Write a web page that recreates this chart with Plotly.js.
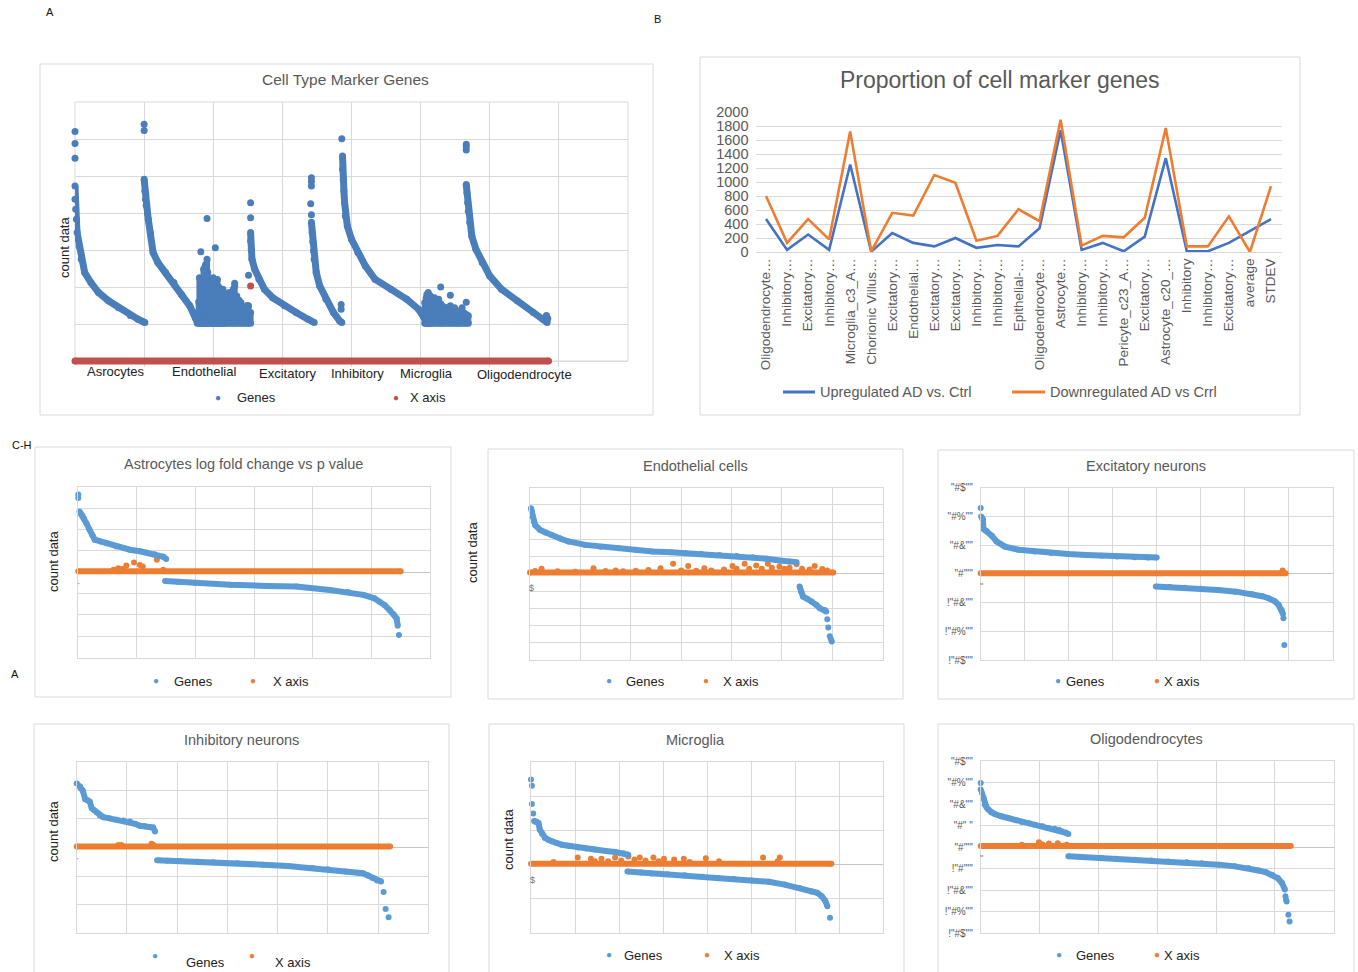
<!DOCTYPE html>
<html><head><meta charset="utf-8">
<script src="https://cdn.plot.ly/plotly-3.0.1.min.js"></script>
<style>html,body{margin:0;padding:0;background:#fff}#chart{width:1358px;height:972px}</style>
</head><body><div id="chart"></div>
<script>
// ---------------- DATA ----------------
// Panel A : Cell Type Marker Genes (grid units, no tick labels in original)
const A_categories = ['Asrocytes','Endothelial','Excitatory','Inhibitory','Microglia','Oligodendrocyte'];
const A_c1X = [0, 0, 0.01, 0.02, 0.03, 0.06, 0.09, 0.14, 0.23, 0.34, 0.49, 0.63, 0.8, 0.91, 1.01];
const A_c1Y = [4.73, 4.37, 4.1, 3.83, 3.47, 3.1, 2.75, 2.39, 2.12, 1.85, 1.62, 1.44, 1.23, 1.13, 1.04];
const A_c2X = [1.0, 1.01, 1.02, 1.03, 1.05, 1.06, 1.09, 1.13, 1.2, 1.31, 1.43, 1.54, 1.66, 1.74, 1.77];
const A_c2Y = [4.91, 4.59, 4.37, 4.2, 4.0, 3.83, 3.47, 2.93, 2.66, 2.39, 2.12, 1.8, 1.49, 1.17, 1.04];
const A_c4X = [2.54, 2.54, 2.55, 2.56, 2.6, 2.66, 2.74, 2.86, 3.03, 3.2, 3.37, 3.46];
const A_c4Y = [3.47, 3.24, 3.02, 2.75, 2.48, 2.21, 1.94, 1.71, 1.49, 1.31, 1.13, 1.04];
const A_c5X = [3.42, 3.43, 3.44, 3.45, 3.46, 3.49, 3.54, 3.63, 3.74, 3.83, 3.86];
const A_c5Y = [3.75, 3.47, 3.22, 2.97, 2.75, 2.39, 2.03, 1.67, 1.31, 1.08, 1.04];
const A_c6X = [3.87, 3.87, 3.88, 3.89, 3.9, 3.91, 3.94, 4.0, 4.09, 4.2, 4.34, 4.57, 4.8, 4.97, 5.06, 5.09];
const A_c6Y = [5.54, 5.18, 4.9, 4.6, 4.28, 3.92, 3.65, 3.29, 2.93, 2.57, 2.21, 1.94, 1.67, 1.4, 1.17, 1.04];
const A_c8X = [5.66, 5.67, 5.68, 5.69, 5.71, 5.74, 5.8, 5.89, 6.0, 6.17, 6.4, 6.63, 6.77, 6.83];
const A_c8Y = [4.77, 4.55, 4.28, 4.05, 3.74, 3.38, 3.02, 2.66, 2.3, 1.94, 1.62, 1.31, 1.13, 1.04];
const A_endoColX   = [1.77, 1.79, 1.8, 1.82, 1.83, 1.85, 1.86, 1.88, 1.89, 1.91, 1.92, 1.94, 1.96, 1.97, 1.99, 2.0, 2.02, 2.03, 2.05, 2.06, 2.08, 2.09, 2.11, 2.13, 2.14, 2.16, 2.17, 2.2, 2.23, 2.26, 2.29, 2.31, 2.34, 2.37, 2.4, 2.43, 2.46, 2.49, 2.51, 2.54];
const A_endoColTop = [1.31, 1.6, 2.25, 1.9, 1.85, 2.1, 2.48, 2.55, 2.61, 2.75, 2.4, 2.2, 2.0, 1.94, 2.1, 2.25, 2.0, 2.03, 2.1, 2.2, 2.0, 1.94, 1.85, 1.9, 1.94, 1.8, 1.76, 1.7, 1.85, 1.75, 1.94, 2.03, 1.76, 1.65, 1.58, 1.45, 1.4, 1.5, 1.49, 1.31];
const A_microColX   = [5.06, 5.08, 5.09, 5.11, 5.12, 5.14, 5.15, 5.17, 5.2, 5.23, 5.26, 5.29, 5.31, 5.34, 5.37, 5.4, 5.43, 5.46, 5.49, 5.52, 5.54, 5.57, 5.6, 5.63, 5.66, 5.69];
const A_microColTop = [1.58, 1.7, 1.8, 1.85, 1.8, 1.76, 1.72, 1.67, 1.71, 1.58, 1.67, 1.55, 1.49, 1.45, 1.44, 1.38, 1.49, 1.4, 1.44, 1.35, 1.31, 1.36, 1.44, 1.3, 1.26, 1.22];
const A_colFloor = 1.02;
const A_dotX = [0, 0, 0, 1.0, 1.0, 1.91, 2.03, 1.82, 2.31, 2.51, 2.54, 2.54, 3.42, 3.42, 3.42, 3.41, 3.42, 3.85, 3.85, 3.86, 5.29, 5.43, 5.66, 5.66, 5.66, 5.66, 6.82, 6.84];
const A_dotY = [6.2, 5.88, 5.48, 6.4, 6.23, 3.85, 3.06, 2.95, 2.1, 2.32, 4.28, 3.87, 4.95, 4.85, 4.73, 4.25, 3.95, 1.53, 1.4, 6.01, 2.0, 1.78, 1.59, 5.86, 5.79, 5.7, 1.23, 1.15];
const A_axisX = [0, 6.85];
const A_axisY = [0, 0];
const A_redDotX = [2.54];
const A_redDotY = [2.03];

// Panel B : Proportion of cell marker genes
const B_labels = ['Oligodendrocyte…','Inhibitory…','Excitatory…','Inhibitory…','Microglia_c3_A…','Chorionic Villus…','Excitatory…','Endothelial…','Excitatory…','Excitatory…','Inhibitory…','Inhibitory…','Epithelial-…','Oligodendrocyte…','Astrocyte…','Inhibitory…','Inhibitory…','Pericyte_c23_A…','Excitatory…','Astrocyte_c20_…','Inhibitory','Inhibitory…','Excitatory…','average','STDEV'];
const B_up   = [470, 30, 250, 30, 1250, 5, 270, 130, 80, 200, 60, 100, 80, 340, 1740, 30, 130, 10, 220, 1340, 10, 10, 130, 300, 470];
const B_down = [800, 130, 470, 180, 1720, 10, 560, 520, 1100, 990, 160, 230, 610, 440, 1890, 90, 230, 210, 490, 1770, 80, 80, 510, 0, 940];
const B_yTicks = [0, 200, 400, 600, 800, 1000, 1200, 1400, 1600, 1800, 2000];

// Panel C : Astrocytes
const C_upX = [0.02, 0.04, 0.07, 0.1, 0.14, 0.19, 0.24, 0.28, 0.38, 0.48, 0.65, 0.88, 1.05, 1.16, 1.3, 1.45, 1.5];
const C_upY = [2.84, 2.76, 2.65, 2.5, 2.28, 2.0, 1.72, 1.52, 1.44, 1.36, 1.2, 1.05, 0.98, 0.92, 0.84, 0.72, 0.62];
const C_loX = [1.48, 1.7, 2.0, 2.59, 3.2, 3.72, 4.29, 4.6, 4.86, 5.05, 5.14, 5.23, 5.31, 5.38, 5.43, 5.45];
const C_loY = [-0.41, -0.45, -0.5, -0.59, -0.64, -0.67, -0.83, -0.93, -1.06, -1.22, -1.38, -1.55, -1.77, -1.97, -2.16, -2.5];
const C_dotX = [0, 0, 5.47];
const C_dotY = [3.63, 3.47, -2.94];
const C_axisX = [0, 5.5];
const C_axisY = [0.05, 0.05];
const C_bumpX = [0.6, 0.68, 0.75, 0.82, 0.95, 1.05, 1.1, 1.34, 1.45];
const C_bumpY = [0.12, 0.19, 0.15, 0.31, 0.45, 0.34, 0.27, 0.58, 0.12];

// Panel D : Endothelial cells
const D_upX = [0.02, 0.03, 0.05, 0.08, 0.1, 0.2, 0.3, 0.43, 0.6, 0.76, 1.1, 1.4, 1.76, 2.1, 2.43, 2.8, 3.09, 3.4, 3.76, 4.1, 4.42, 4.7, 4.95, 5.15, 5.29];
const D_upY = [3.81, 3.67, 3.33, 3.04, 2.84, 2.55, 2.4, 2.26, 2.05, 1.88, 1.68, 1.58, 1.49, 1.4, 1.3, 1.25, 1.2, 1.15, 1.1, 1.04, 0.97, 0.88, 0.77, 0.72, 0.68];
const D_loX = [5.35, 5.38, 5.42, 5.5, 5.59, 5.68, 5.75, 5.85, 5.88];
const D_loY = [-0.73, -1.03, -1.32, -1.45, -1.6, -1.8, -1.99, -2.1, -2.19];
const D_dotX = [5.9, 5.92, 5.95, 5.97, 5.99];
const D_dotY = [-2.64, -3.11, -3.62, -3.78, -3.93];
const D_axisX = [0, 6.02];
const D_axisY = [0.08, 0.08];
const D_bumpX = [0.1, 0.23, 0.55, 0.9, 1.26, 1.5, 1.7, 1.85, 2.1, 2.35, 2.59, 2.84, 3.0, 3.14, 3.3, 3.46, 3.6, 3.85, 4.02, 4.1, 4.26, 4.35, 4.49, 4.6, 4.72, 4.8, 4.95, 5.05, 5.15, 5.29, 5.4, 5.55, 5.65, 5.8, 5.9];
const D_bumpY = [0.17, 0.29, 0.15, 0.12, 0.33, 0.17, 0.2, 0.15, 0.18, 0.22, 0.33, 0.58, 0.2, 0.46, 0.18, 0.33, 0.2, 0.25, 0.46, 0.3, 0.58, 0.3, 0.48, 0.3, 0.58, 0.35, 0.43, 0.3, 0.35, 0.56, 0.3, 0.25, 0.46, 0.28, 0.2];

// Panel E : Excitatory neurons
const E_upX = [0.01, 0.03, 0.05, 0.06, 0.1, 0.14, 0.25, 0.36, 0.55, 0.86, 1.23, 1.6, 1.99, 2.4, 2.75, 3.1, 3.5, 3.8, 4.0];
const E_upY = [2.0, 1.93, 1.9, 1.57, 1.52, 1.48, 1.33, 1.13, 0.95, 0.84, 0.78, 0.73, 0.69, 0.66, 0.63, 0.6, 0.58, 0.57, 0.57];
const E_loX = [3.98, 4.3, 4.64, 5.0, 5.4, 5.8, 6.16, 6.4, 6.54, 6.68, 6.77, 6.84, 6.87];
const E_loY = [-0.44, -0.46, -0.48, -0.52, -0.56, -0.62, -0.7, -0.78, -0.85, -0.95, -1.08, -1.26, -1.4];
const E_dotX = [0, 6.88, 6.9];
const E_dotY = [2.29, -1.55, -2.48];
const E_axisX = [0, 6.93];
const E_axisY = [0.02, 0.02];
const E_bumpX = [6.86];
const E_bumpY = [0.12];
const E_tickVals = [-3, -2, -1, 0, 1, 2, 3];
const E_tickText = ['!"#$""', '!"#%""', '!"#&""', '"#\'""', '"#&""', '"#%""', '"#$""'];

// Panel F : Inhibitory neurons
const F_upX = [0, 0.07, 0.12, 0.17, 0.22, 0.26, 0.3, 0.35, 0.4, 0.46, 0.53, 0.65, 0.79, 0.93, 1.06, 1.16, 1.26, 1.36, 1.46, 1.52, 1.56];
const F_upY = [2.24, 2.13, 1.99, 1.69, 1.65, 1.6, 1.37, 1.3, 1.22, 1.12, 1.06, 1.02, 0.97, 0.94, 0.91, 0.83, 0.76, 0.74, 0.71, 0.7, 0.56];
const F_loX = [1.6, 1.8, 2.05, 2.4, 2.72, 3.2, 3.71, 4.2, 4.7, 5.0, 5.36, 5.6, 5.7, 5.8, 5.89, 5.98, 6.06];
const F_loY = [-0.45, -0.46, -0.47, -0.5, -0.52, -0.55, -0.6, -0.65, -0.72, -0.76, -0.84, -0.88, -0.9, -0.98, -1.07, -1.15, -1.19];
const F_dotX = [6.11, 6.15, 6.21];
const F_dotY = [-1.56, -2.15, -2.44];
const F_axisX = [0, 6.24];
const F_axisY = [0.035, 0.035];
const F_bumpX = [0.83, 0.89, 1.49, 1.52];
const F_bumpY = [0.09, 0.09, 0.13, 0.1];

// Panel G : Microglia
const G_upX = [0.07, 0.09, 0.13, 0.17, 0.2, 0.25, 0.32, 0.4, 0.47, 0.58, 0.7, 0.85, 1.07, 1.25, 1.45, 1.7, 1.91, 2.1, 2.21];
const G_upY = [1.27, 1.26, 1.25, 1.21, 1.02, 0.9, 0.78, 0.72, 0.68, 0.63, 0.58, 0.55, 0.5, 0.47, 0.44, 0.4, 0.37, 0.33, 0.29];
const G_loX = [2.19, 2.5, 2.74, 3.1, 3.49, 3.9, 4.25, 4.6, 5.01, 5.4, 5.76, 6.1, 6.37, 6.5, 6.6, 6.68, 6.73];
const G_loY = [-0.2, -0.23, -0.26, -0.28, -0.31, -0.35, -0.39, -0.42, -0.46, -0.5, -0.58, -0.68, -0.78, -0.82, -0.92, -1.05, -1.21];
const G_dotX = [0, 0.02, 0.02, 0.05, 6.79];
const G_dotY = [2.48, 2.3, 1.77, 1.49, -1.55];
const G_axisX = [0, 6.82];
const G_axisY = [0.03, 0.03];
const G_bumpX = [0.51, 1.06, 1.36, 1.45, 1.6, 1.75, 1.91, 2.05, 2.21, 2.35, 2.47, 2.6, 2.78, 2.9, 3.02, 3.25, 3.47, 3.6, 3.97, 4.27, 5.27, 5.6, 5.65];
const G_bumpY = [0.08, 0.21, 0.17, 0.1, 0.17, 0.1, 0.21, 0.12, 0.24, 0.15, 0.21, 0.12, 0.21, 0.1, 0.17, 0.15, 0.17, 0.08, 0.19, 0.1, 0.21, 0.1, 0.21];

// Panel H : Oligodendrocytes
const H_upX = [0, 0.02, 0.05, 0.07, 0.1, 0.13, 0.18, 0.24, 0.35, 0.47, 0.6, 0.7, 0.82, 0.92, 1.05, 1.15, 1.26, 1.33, 1.38, 1.45, 1.49];
const H_upY = [2.67, 2.51, 2.28, 1.97, 1.85, 1.74, 1.6, 1.53, 1.43, 1.35, 1.24, 1.16, 1.1, 1.04, 0.96, 0.88, 0.85, 0.8, 0.73, 0.66, 0.6];
const H_loX = [1.49, 1.7, 2.06, 2.3, 2.62, 2.9, 3.19, 3.5, 3.76, 4.05, 4.32, 4.55, 4.72, 4.85, 4.95, 5.05, 5.12, 5.17];
const H_loY = [-0.43, -0.46, -0.51, -0.55, -0.59, -0.63, -0.67, -0.71, -0.76, -0.82, -0.9, -0.98, -1.09, -1.18, -1.29, -1.45, -1.67, -1.98];
const H_dotX = [0, 5.18, 5.19, 5.2, 5.23, 5.25];
const H_dotY = [2.98, -2.29, -2.45, -2.53, -3.15, -3.46];
const H_axisX = [0, 5.27];
const H_axisY = [0.05, 0.05];
const H_bumpX = [0.7, 0.99, 1.05, 1.16, 1.31, 1.46];
const H_bumpY = [0.11, 0.22, 0.12, 0.16, 0.17, 0.11];
const H_tickVals = [-4, -3, -2, -1, 0, 1, 2, 3, 4];
const H_tickText = ['!"#$""', '!"#%""', '!"#&""', '!"#\'""', '"#\'""', '"#" "', '"#&""', '"#%""', '"#$""'];

// ---------------- LAYOUT HELPERS ----------------
const W = 1358, H = 972;
const PX = x => x / W, PY = y => 1 - y / H;
const GRID = '#d9d9d9';
const BLUE_A = '#4a7ebb', RED_A = '#c0504d';
const BLUE = '#5b9bd5', ORANGE = '#ed7d31';
const FONT = 'Liberation Sans, Arial, sans-serif';

const traces = [];
function band(xa, ya, X, Y, color, size) {
  traces.push({type:'scatter', mode:'lines+markers', x:X, y:Y, xaxis:xa, yaxis:ya,
    line:{color:color, width:size}, marker:{color:color, size:size}, cliponaxis:false, hoverinfo:'skip'});
}
function dots(xa, ya, X, Y, color, size) {
  traces.push({type:'scatter', mode:'markers', x:X, y:Y, xaxis:xa, yaxis:ya,
    marker:{color:color, size:size}, cliponaxis:false, hoverinfo:'skip'});
}
function columns(xa, ya, X, T, floor, color, size) {
  const cx = [], cy = [];
  X.forEach((v, i) => { cx.push(v, v, null); cy.push(floor, T[i], null); });
  traces.push({type:'scatter', mode:'lines', x:cx, y:cy, xaxis:xa, yaxis:ya,
    line:{color:color, width:size-1}, cliponaxis:false, hoverinfo:'skip', connectgaps:false});
  dots(xa, ya, X, T, color, size);
  dots(xa, ya, X, X.map(() => floor), color, size);
}

function gridAxis(d, range, anchor, extra) {
  return Object.assign({domain:d, range:range, dtick:1, tick0:0, anchor:anchor,
    showgrid:true, gridcolor:GRID, gridwidth:1, zeroline:false,
    showline:true, mirror:true, linecolor:GRID, linewidth:1,
    showticklabels:false, ticks:'', fixedrange:true}, extra || {});
}
const layout = {
  width:W, height:H, margin:{l:0, r:0, t:0, b:0},
  paper_bgcolor:'#fff', plot_bgcolor:'#fff', showlegend:false,
  font:{family:FONT, color:'#333'}, annotations:[], shapes:[]
};
function addPanel(n, box, xr, yr, zero, yextra, xextra) {
  const xk = n === 1 ? 'xaxis' : 'xaxis' + n, yk = n === 1 ? 'yaxis' : 'yaxis' + n;
  const xa = n === 1 ? 'x' : 'x' + n, ya = n === 1 ? 'y' : 'y' + n;
  layout[xk] = gridAxis([PX(box.l), PX(box.r)], xr, ya, xextra);
  layout[yk] = gridAxis([PY(box.b), PY(box.t)], yr, xa,
    Object.assign(zero ? {zeroline:true, zerolinecolor:'#c6c6c6', zerolinewidth:1} : {}, yextra || {}));
  return [xa, ya];
}
function txt(x, y, text, size, color, extra) {
  layout.annotations.push(Object.assign({xref:'paper', yref:'paper', x:PX(x), y:PY(y), text:text,
    showarrow:false, xanchor:'center', yanchor:'middle', font:{family:FONT, size:size, color:color}}, extra || {}));
}
function frame(l, t, r, b) {
  layout.shapes.push({type:'rect', xref:'paper', yref:'paper', x0:PX(l), x1:PX(r), y0:PY(b), y1:PY(t),
    line:{color:GRID, width:1}, fillcolor:'rgba(0,0,0,0)', layer:'below'});
}
function legend2(y, d1, t1, d2, t2, c1, c2, size) {
  txt(d1, y - 1, '●', 10, c1); txt(t1, y, 'Genes', size, '#222');
  txt(d2, y - 1, '●', 10, c2); txt(t2, y, 'X axis', size, '#222');
}

// ---------------- PANEL A ----------------
frame(40, 64, 653, 415);
frame(75, 102, 628, 361);   // plot-area frame of panel A
// y range extended a little below 0 so the thick red "X axis" line is not clipped
let [ax, ay] = addPanel(1, {l:75, r:628, t:102, b:366.55}, [0, 8], [-0.15, 7], false,
  {showline:false}, {showline:false});
[[A_c1X, A_c1Y], [A_c2X, A_c2Y], [A_c4X, A_c4Y], [A_c5X, A_c5Y], [A_c6X, A_c6Y], [A_c8X, A_c8Y]]
  .forEach(c => band(ax, ay, c[0], c[1], BLUE_A, 7));
columns(ax, ay, A_endoColX, A_endoColTop, A_colFloor, BLUE_A, 7);
columns(ax, ay, A_microColX, A_microColTop, A_colFloor, BLUE_A, 7);
dots(ax, ay, A_dotX, A_dotY, BLUE_A, 7);
band(ax, ay, A_axisX, A_axisY, RED_A, 7);
dots(ax, ay, A_redDotX, A_redDotY, RED_A, 7);
txt(345, 80, 'Cell Type Marker Genes', 15.5, '#595959');
txt(65, 248, 'count data', 13, '#222', {textangle:-90});
const A_labelPos = [[116, 372], [204, 372], [288, 373], [357, 373], [426, 373], [524, 375]];
A_categories.forEach((c, i) => txt(A_labelPos[i][0], A_labelPos[i][1], c, 13, '#222'));
legend2(398, 218, 256, 396, 428, BLUE_A, RED_A, 13);

// ---------------- PANEL B ----------------
frame(700, 57, 1300, 415);
layout.xaxis2 = {domain:[PX(755.5), PX(1281.5)], range:[-0.5, B_labels.length - 0.5], anchor:'y2',
  tickvals:B_labels.map((_, i) => i), ticktext:B_labels, tickangle:-90, ticks:'',
  tickfont:{family:FONT, size:13.5, color:'#595959'}, showgrid:false, zeroline:false,
  showline:true, linecolor:GRID, linewidth:1, fixedrange:true};
layout.yaxis2 = {domain:[PY(252), PY(112)], range:[0, 2000], anchor:'x2', tickvals:B_yTicks,
  ticks:'', ticklabelstandoff:6, tickfont:{family:FONT, size:14.5, color:'#595959'},
  showgrid:true, gridcolor:GRID, zeroline:false, showline:false, fixedrange:true};
const Bx = B_labels.map((_, i) => i);
traces.push({type:'scatter', mode:'lines', x:Bx, y:B_up, xaxis:'x2', yaxis:'y2',
  line:{color:'#4472c4', width:2.6}, cliponaxis:false, hoverinfo:'skip'});
traces.push({type:'scatter', mode:'lines', x:Bx, y:B_down, xaxis:'x2', yaxis:'y2',
  line:{color:ORANGE, width:2.6}, cliponaxis:false, hoverinfo:'skip'});
txt(1000, 80, 'Proportion of cell marker genes', 23, '#595959');
layout.shapes.push({type:'line', xref:'paper', yref:'paper', x0:PX(783), x1:PX(815), y0:PY(392), y1:PY(392), line:{color:'#4472c4', width:3}});
layout.shapes.push({type:'line', xref:'paper', yref:'paper', x0:PX(1012), x1:PX(1045), y0:PY(392), y1:PY(392), line:{color:ORANGE, width:3}});
txt(818, 392, 'Upregulated AD vs. Ctrl', 14.5, '#595959', {xanchor:'left'});
txt(1048, 392, 'Downregulated AD vs Crrl', 14.5, '#595959', {xanchor:'left'});

// ---------------- SMALL PANELS ----------------
function small(n, box, xr, yr, up, lo, dt, axis, bump, yextra) {
  const [xa, ya] = addPanel(n, box, xr, yr, true, yextra);
  band(xa, ya, axis[0], axis[1], ORANGE, 6);
  dots(xa, ya, bump[0], bump[1], ORANGE, 6);
  band(xa, ya, up[0], up[1], BLUE, 6);
  band(xa, ya, lo[0], lo[1], BLUE, 6);
  dots(xa, ya, dt[0], dt[1], BLUE, 6);
}
const tickExtra = (vals, text) => ({showticklabels:true, tickvals:vals, ticktext:text, ticklabelstandoff:5,
  tickfont:{family:FONT, size:10, color:'#595959'}});

// C
frame(35, 447, 451, 697);
small(3, {l:78.3, r:430, t:486.7, b:657.7}, [0, 6], [-4, 4], [C_upX, C_upY], [C_loX, C_loY], [C_dotX, C_dotY], [C_axisX, C_axisY], [C_bumpX, C_bumpY]);
txt(243, 464, 'Astrocytes log fold change vs p value', 14.5, '#595959');
txt(53, 562, 'count data', 13, '#222', {textangle:-90});
txt(78.5, 583, '·', 10, '#888');
legend2(681, 156, 193, 253, 291, BLUE, ORANGE, 13);

// D
frame(488, 449, 903, 699);
small(4, {l:530, r:882.7, t:487.7, b:660}, [0, 7], [-5, 5], [D_upX, D_upY], [D_loX, D_loY], [D_dotX, D_dotY], [D_axisX, D_axisY], [D_bumpX, D_bumpY]);
txt(696, 466, 'Endothelial cells', 14.5, '#595959');
txt(472, 553, 'count data', 13, '#222', {textangle:-90});
txt(531, 588, '$', 9, '#777');
legend2(681, 609, 645, 706, 741, BLUE, ORANGE, 13);

// E
frame(938, 450, 1354, 699);
small(5, {l:980.7, r:1332.7, t:487.7, b:660}, [0, 8], [-3, 3], [E_upX, E_upY], [E_loX, E_loY], [E_dotX, E_dotY], [E_axisX, E_axisY], [E_bumpX, E_bumpY], tickExtra(E_tickVals, E_tickText));
txt(1146, 466, 'Excitatory neurons', 14.5, '#595959');
txt(981, 586, '"', 9, '#777');
legend2(681, 1058, 1085, 1157, 1182, BLUE, ORANGE, 13);

// F
frame(34, 724, 449, 975);
small(6, {l:76.7, r:428.3, t:761.7, b:933.3}, [0, 7], [-3, 3], [F_upX, F_upY], [F_loX, F_loY], [F_dotX, F_dotY], [F_axisX, F_axisY], [F_bumpX, F_bumpY]);
txt(241, 740, 'Inhibitory neurons', 14.5, '#595959');
txt(53, 832, 'count data', 13, '#222', {textangle:-90});
txt(77, 858, '·', 10, '#888');
txt(155, 955, '●', 10, BLUE); txt(206, 962, 'Genes', 13, '#222');
txt(252, 955, '●', 10, ORANGE); txt(293, 962, 'X axis', 13, '#222');

// G
frame(489, 724, 904, 975);
small(7, {l:531, r:883.3, t:761.7, b:933.3}, [0, 8], [-2, 3], [G_upX, G_upY], [G_loX, G_loY], [G_dotX, G_dotY], [G_axisX, G_axisY], [G_bumpX, G_bumpY]);
txt(696, 740, 'Microglia', 14.5, '#595959');
txt(508, 840, 'count data', 13, '#222', {textangle:-90});
txt(532, 880, '$', 9, '#777');
legend2(955, 609, 643, 707, 742, BLUE, ORANGE, 13);

// H
frame(938, 724, 1354, 975);
small(8, {l:980.7, r:1333.7, t:761, b:933}, [0, 6], [-4, 4], [H_upX, H_upY], [H_loX, H_loY], [H_dotX, H_dotY], [H_axisX, H_axisY], [H_bumpX, H_bumpY], tickExtra(H_tickVals, H_tickText));
txt(1146, 739, 'Oligodendrocytes', 14.5, '#595959');
txt(981, 858, '"', 9, '#777');
legend2(955, 1059, 1095, 1157, 1182, BLUE, ORANGE, 13);

// panel letters
txt(50, 12, 'A', 11, '#111');
txt(657, 19, 'B', 11, '#111');
txt(22, 445, 'C-H', 11, '#111');
txt(15, 674, 'A', 11, '#111');

Plotly.newPlot('chart', traces, layout, {staticPlot:true, displayModeBar:false});
</script>
</body></html>
